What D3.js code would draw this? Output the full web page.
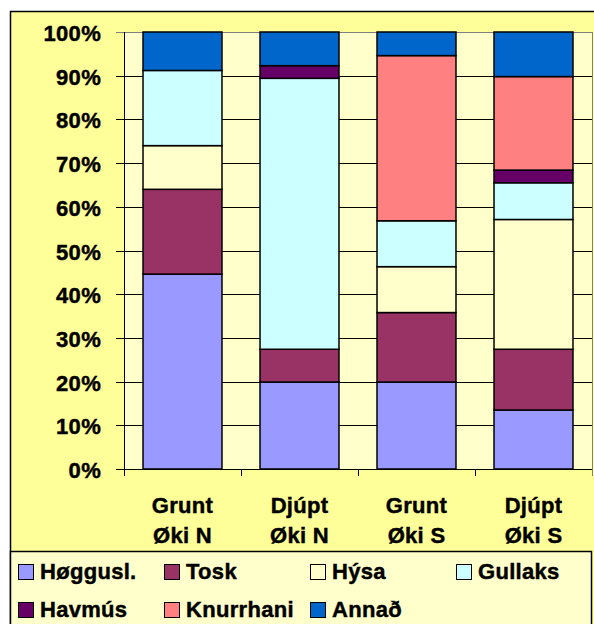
<!DOCTYPE html>
<meta charset="utf-8">
<style>
body { margin: 0; background: #fff; }
text { font-family: "Liberation Sans", Arial, sans-serif; font-weight: bold; fill: #000;
       stroke: #000; stroke-width: 0.45px; letter-spacing: 0.3px; }
</style>
<svg width="594" height="624"></svg>
<script src="https://d3js.org/d3.v7.min.js"></script>
<script>

// data (percent shares)
var categories = ["Grunt|Øki N", "Djúpt|Øki N", "Grunt|Øki S", "Djúpt|Øki S"];
var species = ["Høggusl.", "Tosk", "Hýsa", "Gullaks", "Havmús", "Knurrhani", "Annað"];
var speciesColors = ["#9999FF", "#993366", "#FFFFCC", "#CCFFFF", "#660066", "#FF8080", "#0066CC"];
var hoggusl   = [44.6, 19.9, 19.9, 13.5];
var tosk      = [19.4,  7.5, 15.9, 13.9];
var hysa      = [10.0,  0.0, 10.5, 29.7];
var gullaks   = [17.2, 62.0, 10.5,  8.4];
var havmus    = [ 0.0,  2.9,  0.0,  2.9];
var knurrhani = [ 0.0,  0.0, 37.8, 21.4];
var annad     = [ 8.8,  7.7,  5.4, 10.2];
var yTicks = [0, 10, 20, 30, 40, 50, 60, 70, 80, 90, 100];

var series = [hoggusl, tosk, hysa, gullaks, havmus, knurrhani, annad];

var svg = d3.select("svg");

// outer chart area
svg.append("rect")
    .attr("x", 10.5).attr("y", 11.5)
    .attr("width", 600).attr("height", 620)
    .attr("fill", "#FFFF99")
    .attr("stroke", "#000").attr("stroke-width", 1.5);

var x = d3.scaleBand()
    .domain(categories)
    .range([124, 592])
    .paddingInner(0.325)
    .paddingOuter(0.1625);

var y = d3.scaleLinear()
    .domain([0, 100])
    .range([469, 32]);

// plot area
svg.append("rect")
    .attr("x", 124).attr("y", y(100))
    .attr("width", 468).attr("height", y(0) - y(100))
    .attr("fill", "#FFFFCC");

// gridlines
svg.append("g")
  .selectAll("line")
  .data(yTicks)
  .join("line")
    .attr("x1", 116).attr("x2", 592)
    .attr("y1", function(d) { return Math.round(y(d)) + 0.5; })
    .attr("y2", function(d) { return Math.round(y(d)) + 0.5; })
    .attr("stroke", function(d) { return d == 100 ? "#808080" : "#000"; })
    .attr("stroke-width", 1);

// plot border sides
svg.append("line")
    .attr("x1", 124.5).attr("x2", 124.5).attr("y1", y(100)).attr("y2", y(0) + 7)
    .attr("stroke", "#000");
svg.append("line")
    .attr("x1", 592.5).attr("x2", 592.5).attr("y1", y(100)).attr("y2", y(0) + 7)
    .attr("stroke", "#808080");

// x ticks between categories
svg.append("g")
  .selectAll("line")
  .data(categories)
  .join("line")
    .attr("x1", function(d) { return x(d) - x.step() * x.paddingInner() / 2 + 0.5; })
    .attr("x2", function(d) { return x(d) - x.step() * x.paddingInner() / 2 + 0.5; })
    .attr("y1", y(0)).attr("y2", y(0) + 7)
    .attr("stroke", "#000");

// stacked bars
var rows = categories.map(function(c, i) {
  var r = {cat: c};
  species.forEach(function(s, j) { r[s] = series[j][i]; });
  return r;
});
var stacked = d3.stack().keys(species)(rows);

svg.append("g")
  .selectAll("g")
  .data(stacked)
  .join("g")
    .attr("fill", function(d, i) { return speciesColors[i]; })
  .selectAll("rect")
  .data(function(d) { return d.filter(function(p) { return p[1] - p[0] > 0; }); })
  .join("rect")
    .attr("x", function(d) { return x(d.data.cat); })
    .attr("y", function(d) { return y(d[1]); })
    .attr("width", x.bandwidth())
    .attr("height", function(d) { return y(d[0]) - y(d[1]); })
    .attr("stroke", "#000")
    .attr("stroke-width", 1.5);

// y labels
svg.append("g")
  .selectAll("text")
  .data(yTicks)
  .join("text")
    .attr("x", 101)
    .attr("y", function(d) { return y(d) + 9; })
    .attr("text-anchor", "end")
    .style("font-size", "22px")
    .text(function(d) { return d + "%"; });

// x labels
var xl = svg.append("g")
  .selectAll("text")
  .data(categories)
  .join("text")
    .attr("text-anchor", "middle")
    .style("font-size", "22px");
xl.append("tspan")
    .attr("x", function(d) { return x(d) + x.bandwidth() / 2; })
    .attr("y", 513)
    .text(function(d) { return d.split("|")[0]; });
xl.append("tspan")
    .attr("x", function(d) { return x(d) + x.bandwidth() / 2; })
    .attr("y", 543)
    .text(function(d) { return d.split("|")[1]; });

// legend
svg.append("rect")
    .attr("x", 10.5).attr("y", 551.5)
    .attr("width", 581).attr("height", 80)
    .attr("fill", "#FFFFCC")
    .attr("stroke", "#000").attr("stroke-width", 1.5);

var legend = svg.append("g")
  .selectAll("g")
  .data(species)
  .join("g")
    .attr("transform", function(d, i) {
      return "translate(" + (18 + (i % 4) * 146) + "," + (579 + Math.floor(i / 4) * 38) + ")";
    });
legend.append("rect")
    .attr("x", 0.5).attr("y", -14.5)
    .attr("width", 15).attr("height", 15)
    .attr("fill", function(d, i) { return speciesColors[i]; })
    .attr("stroke", "#000").attr("stroke-width", 1);
legend.append("text")
    .attr("x", 22).attr("y", 0)
    .style("font-size", "22px")
    .text(function(d) { return d; });

</script>
